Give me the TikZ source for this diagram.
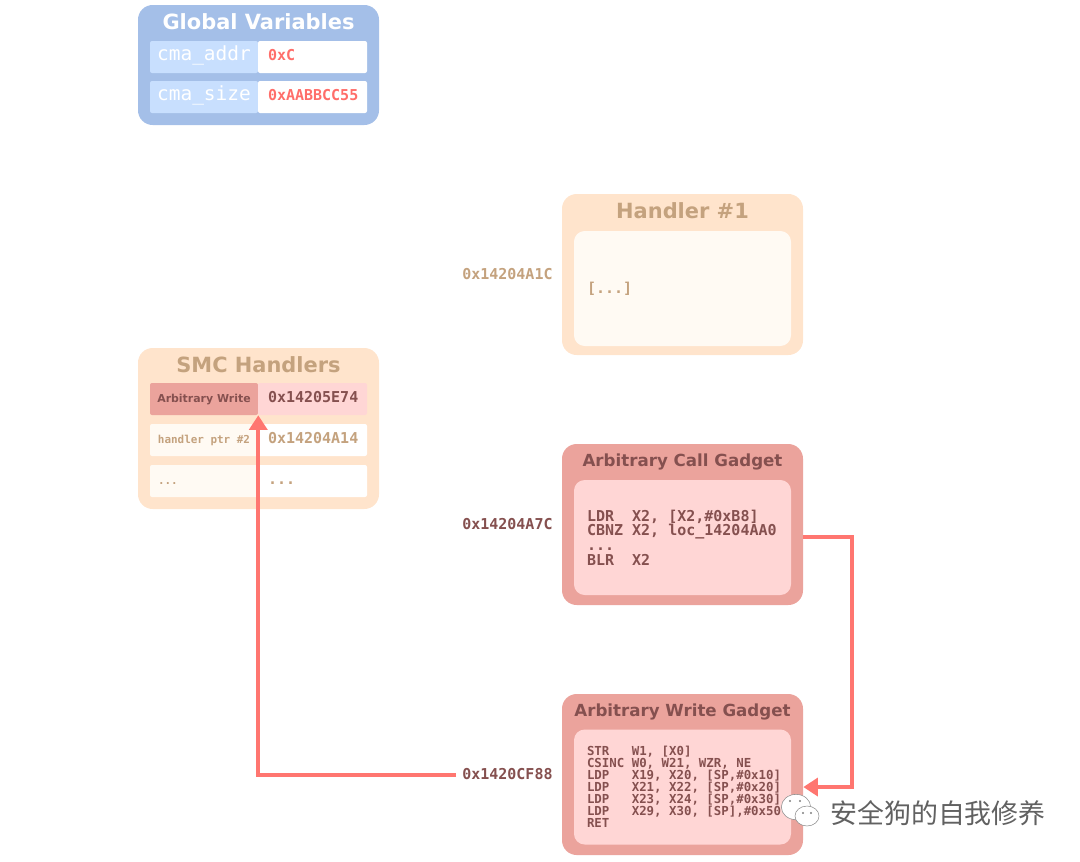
\documentclass[tikz,border=0pt]{standalone}
\usepackage{fontspec}
\setmainfont{DejaVu Sans}
\setmonofont{DejaVu Sans Mono}
\newfontfamily\cjkfont{Noto Sans CJK SC}
\usetikzlibrary{arrows.meta,positioning,calc,shapes.geometric}
\definecolor{bluebg}{HTML}{A4BFE8}
\definecolor{bluecell}{HTML}{C8DFFE}
\definecolor{sandbg}{HTML}{FFE4CC}
\definecolor{sandpane}{HTML}{FFFAF3}
\definecolor{sandtxt}{HTML}{C4A27E}
\definecolor{redbg}{HTML}{EBA39C}
\definecolor{redpane}{HTML}{FFD6D5}
\definecolor{redtxt}{HTML}{85504F}
\definecolor{wire}{HTML}{FF7670}
\definecolor{hotval}{HTML}{FF6E6A}
\tikzset{
  card/.style={rounded corners=11pt,minimum width=180.75pt,minimum height=120.75pt,inner sep=0pt},
  pane/.style={rounded corners=8pt,minimum width=162.75pt,minimum height=86.25pt,inner sep=0pt},
  cardtitle/.style={font=\fontsize{15.7}{18}\selectfont\bfseries,inner sep=0pt},
  gadgettitle/.style={font=\fontsize{12.5}{16}\selectfont\bfseries,inner sep=0pt,text=redtxt},
  lcell/.style={rounded corners=1.5pt,minimum width=81pt,minimum height=24pt,inner sep=0pt,align=center,text height=.75em,text depth=.25em},
  rcell/.style={rounded corners=1.5pt,minimum width=81.75pt,minimum height=24pt,inner xsep=7.5pt,inner ysep=0pt,text width=66.75pt,align=left,text height=.75em,text depth=.25em},
  varname/.style={lcell,fill=bluecell,text=white,font=\fontsize{14.6}{16}\selectfont\ttfamily},
  addr/.style={font=\fontsize{11.25}{13}\selectfont\ttfamily\bfseries},
  code/.style={anchor=west,inner sep=0pt,align=left},
  bub/.style={draw=black!45,fill=white,ellipse,inner sep=0pt,line width=.4pt},
  eye/.style={circle,fill=black!50,minimum size=1.6pt,inner sep=0pt},
  arr/.style={-{Triangle[length=11pt,width=13.5pt]},line width=3pt,wire},
}
\begin{document}
\begin{tikzpicture}[x=0.75pt,y=-0.75pt]
\useasboundingbox (0,0) rectangle (1080,861);
% global variables
\node[card,fill=bluebg,minimum height=90pt] (globals) at (258.5,65) {};
\node[cardtitle,text=white] (globalstitle) at (258.5,22) {Global Variables};
\node[varname] (cmaaddr) at (204,57) {cma\_addr};
\node[rcell,fill=white,text=hotval,addr] (cmaaddrval) at (312.5,57) {0xC};
\node[varname] (cmasize) at (204,97) {cma\_size};
\node[rcell,fill=white,text=hotval,addr] (cmasizeval) at (312.5,97) {0xAABBCC55};
% handler table
\node[card,fill=sandbg] (smc) at (258.5,428.5) {};
\node[cardtitle,text=sandtxt] (smctitle) at (258.5,365) {SMC Handlers};
\node[lcell,fill=redbg,text=redtxt,font=\fontsize{8.2}{11}\selectfont\bfseries] (arbname) at (204,399) {Arbitrary Write};
\node[rcell,fill=redpane,text=redtxt,addr] (arbval) at (312.5,399) {0x14205E74};
\node[lcell,fill=sandpane,text=sandtxt,font=\fontsize{8.2}{10}\selectfont\ttfamily\bfseries] (ptrname) at (204,440) {handler ptr \#2};
\node[rcell,fill=white,text=sandtxt,addr] (ptrval) at (312.5,440) {0x14204A14};
\node[lcell,fill=sandpane,text=sandtxt,font=\fontsize{8.2}{10}\selectfont\ttfamily\bfseries,text width=69pt,inner xsep=6pt,align=left] (restname) at (204,481) {...};
\node[rcell,fill=white,text=sandtxt,addr] (restval) at (312.5,481) {...};
% handler 1
\node[card,fill=sandbg] (hone) at (682.5,274.5) {};
\node[cardtitle,text=sandtxt] (honetitle) at (682.5,211) {Handler \#1};
\node[pane,fill=sandpane] (honepane) at (682.5,288.5) {};
\node[code,text=sandtxt,font=\fontsize{11.25}{10.9}\selectfont\ttfamily\bfseries] (honecode) at ([xshift=9.75pt]honepane.west) {[...]};
\node[addr,text=sandtxt,anchor=west,inner sep=0pt] (honeaddr) at (462,274.5) {0x14204A1C};
% call gadget
\node[card,fill=redbg] (callg) at (682.5,524.5) {};
\node[gadgettitle] (calltitle) at (682.5,462) {Arbitrary Call Gadget};
\node[pane,fill=redpane] (callpane) at (682.5,537.5) {};
\node[code,text=redtxt,font=\fontsize{11.25}{10.9}\selectfont\ttfamily\bfseries] (callcode) at ([xshift=9.75pt]callpane.west) {LDR~~X2,~[X2,\#0xB8]\\CBNZ~X2,~loc\_14204AA0\\...\\BLR~~X2};
\node[addr,text=redtxt,anchor=west,inner sep=0pt] (calladdr) at (462,524.5) {0x14204A7C};
% write gadget
\node[card,fill=redbg] (writeg) at (682.5,774.5) {};
\node[gadgettitle] (writetitle) at (682.5,712) {Arbitrary Write Gadget};
\node[pane,fill=redpane] (writepane) at (682.5,787) {};
\node[code,text=redtxt,font=\fontsize{9.3}{9}\selectfont\ttfamily\bfseries] (writecode) at ([xshift=9.75pt]writepane.west) {STR~~~W1,~[X0]\\CSINC~W0,~W21,~WZR,~NE\\LDP~~~X19,~X20,~[SP,\#0x10]\\LDP~~~X21,~X22,~[SP,\#0x20]\\LDP~~~X23,~X24,~[SP,\#0x30]\\LDP~~~X29,~X30,~[SP],\#0x50\\RET};
\node[addr,text=redtxt,anchor=west,inner sep=0pt] (writeaddr) at (462,774.5) {0x1420CF88};
% connectors
\draw[arr] ([yshift=-9.4pt]callg.east) -- ++(36.75pt,0) |- ([yshift=-9.4pt]writeg.east);
\draw[arr] ([xshift=-4.5pt]writeaddr.west) -| (arbname.south east);
% watermark
\node[bub,minimum width=22pt,minimum height=19pt] (wechatbig) at (796,807) {};
\node[bub,minimum width=18pt,minimum height=15pt] (wechatsmall) at (807,816) {};
\node[eye] (eyea) at (790,801) {};
\node[eye] (eyeb) at (800,801) {};
\node[eye] (eyec) at (803,813) {};
\node[eye] (eyed) at (811,813) {};
\node[anchor=west,inner sep=0pt,text=black!62,font=\fontsize{20.2}{22}\selectfont\cjkfont] (mark) at (830,813) {安全狗的自我修养};
\end{tikzpicture}
\end{document}
